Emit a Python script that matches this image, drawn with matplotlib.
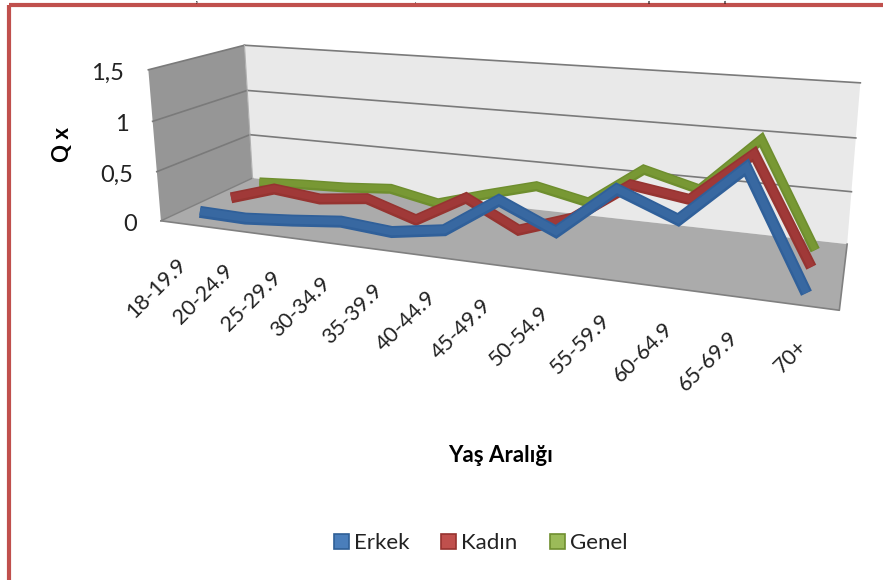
import numpy as np
import matplotlib
matplotlib.use('Agg')
import matplotlib.pyplot as plt
from matplotlib.patches import Polygon, Rectangle

plt.rcParams['font.family'] = ['Lato', 'DejaVu Sans']

# Veriler
yas_araligi = ['18-19.9', '20-24.9', '25-29.9', '30-34.9', '35-39.9', '40-44.9',
               '45-49.9', '50-54.9', '55-59.9', '60-64.9', '65-69.9', '70+']
erkek = [0.04, 0.03, 0.07, 0.12, 0.08, 0.16, 0.50, 0.27, 0.71, 0.50, 1.00, 0.00]
kadin = [0.03, 0.18, 0.13, 0.19, 0.03, 0.31, 0.05, 0.23, 0.60, 0.52, 0.98, 0.03]
genel = [0.05, 0.08, 0.10, 0.14, 0.04, 0.19, 0.33, 0.22, 0.60, 0.46, 0.98, 0.00]
y_ticks = [0, 0.5, 1, 1.5]
y_tick_labels = ['0', '0,5', '1', '1,5']

# Kamera: kutunun koseleri (kategori, derinlik, deger) -> piksel
koseler = [((0, 0, 0), (161, 221)), ((1, 0, 0), (839, 311)),
           ((0, 1, 0), (252, 178)), ((1, 1, 0), (847, 243)),
           ((0, 0, 1.5), (148, 69)), ((0, 1, 1.5), (244, 46)),
           ((1, 1, 1.5), (860, 83)), ((0, 1, 0.5), (250, 135)),
           ((0, 1, 1), (248, 90)), ((1, 1, 0.5), (852, 192)),
           ((1, 1, 1), (856, 138)), ((0, 0, 0.5), (157, 172)),
           ((0, 0, 1), (153, 121))]

A, b = [], []
for (u, v, w), (px, py) in koseler:
    A.append([u, v, w, 1, 0, 0, 0, 0, -px * u, -px * v, -px * w])
    A.append([0, 0, 0, 0, u, v, w, 1, -py * u, -py * v, -py * w])
    b += [px, py]
p = np.linalg.lstsq(np.array(A, float), np.array(b, float), rcond=None)[0]
P = np.append(p, 1).reshape(3, 4)


def proj(u, v, w):
    q = P @ np.array([u, v, w, 1.0])
    return q[0] / q[2], q[1] / q[2]


def kat(i):
    return (i + 0.5) / len(yas_araligi)


fig = plt.figure(figsize=(8.83, 5.8), dpi=100)
ax = fig.add_axes([0, 0, 1, 1])
ax.set_xlim(0, 883)
ax.set_ylim(580, 0)
ax.axis('off')

# Duvarlar ve taban
ax.add_patch(Polygon([proj(0, 0, 0), proj(0, 1, 0), proj(0, 1, 1.5), proj(0, 0, 1.5)],
                     facecolor='#969696', edgecolor='none'))
ax.add_patch(Polygon([proj(0, 1, 0), proj(1, 1, 0), proj(1, 1, 1.5), proj(0, 1, 1.5)],
                     facecolor='#e9e9e9', edgecolor='none'))
ax.add_patch(Polygon([proj(0, 0, 0), proj(1, 0, 0), proj(1, 1, 0), proj(0, 1, 0)],
                     facecolor='#ababab', edgecolor='none'))

# Izgara cizgileri
for t in y_ticks[1:]:
    sol_on, sol_arka, sag_arka = proj(0, 0, t), proj(0, 1, t), proj(1, 1, t)
    ax.plot(*zip(sol_on, sol_arka), color='#7a7a7a', lw=1.2)
    ax.plot(*zip(sol_arka, sag_arka), color='#7a7a7a', lw=1.2)
ax.plot(*zip(proj(0, 0, 0), proj(1, 0, 0), proj(1, 1, 0)), color='#808080', lw=1.2)
ax.plot(*zip(proj(0, 0, 0), proj(0, 1, 0)), color='#808080', lw=1.0)
ax.plot(*zip(proj(0, 1, 0), proj(0, 1, 1.5)), color='#b0b0b0', lw=0.8)

# Seriler: arkadan one
seriler = [(genel, 5 / 6, '#6e8e2e', '#789834', 10),
           (kadin, 3 / 6, '#963431', '#a03938', 11),
           (erkek, 1 / 6, '#30609a', '#3868a1', 12)]
for degerler, derinlik, koyu, acik, kalinlik in seriler:
    pts = np.array([proj(kat(i), derinlik, d) for i, d in enumerate(degerler)])
    ax.plot(pts[:, 0], pts[:, 1], color=koyu, lw=kalinlik * 0.72,
            solid_joinstyle='miter', solid_capstyle='butt')
    ax.plot(pts[:, 0], pts[:, 1] - 0.5, color=acik, lw=kalinlik * 0.45,
            solid_joinstyle='miter', solid_capstyle='butt')

# Eksen yazilari
for t, lab in zip(y_ticks, y_tick_labels):
    x, y = proj(0, 0, t)
    ax.text(x - 24, y + 3.5, lab, ha='right', va='center', fontsize=17, color='#222222')
for i, lab in enumerate(yas_araligi):
    x, y = proj(kat(i), 0, 0)
    ax.text(x, y + 38, lab, rotation=45, rotation_mode='anchor', ha='right', va='center',
            fontsize=15.5, color='#222222')
ax.text(62, 145, 'Q x', rotation=90, ha='center', va='center', fontsize=16, fontweight='bold')
ax.text(501, 455, 'Yaş Aralığı', ha='center', va='center', fontsize=16, fontweight='bold')

# Gosterge
for x0, lab, dolgu, kenar in [(334, 'Erkek', '#4a7ebb', '#2f5f96'),
                              (441, 'Kadın', '#c0504d', '#96322f'),
                              (550, 'Genel', '#9bbb59', '#6f8f2f')]:
    ax.add_patch(Rectangle((x0, 534), 15, 15, facecolor=dolgu, edgecolor=kenar, lw=1.2))
    ax.text(x0 + 20, 543, lab, ha='left', va='center', fontsize=16, color='#222222')

# Ustteki satirdan kalan kucuk harfler
for x0, harf in [(197, 'y'), (415, ','), (649, 'g'), (725, 'g')]:
    ax.text(x0, 0.2, harf, ha='center', va='top', fontsize=3, fontweight='bold',
            family='Liberation Serif', color='black')

# Kirmizi cerceve
ax.add_patch(Rectangle((8.5, 5.3), 880, 580, facecolor='none', edgecolor='#c0504d', lw=3))

fig.savefig('out.png', dpi=100)
